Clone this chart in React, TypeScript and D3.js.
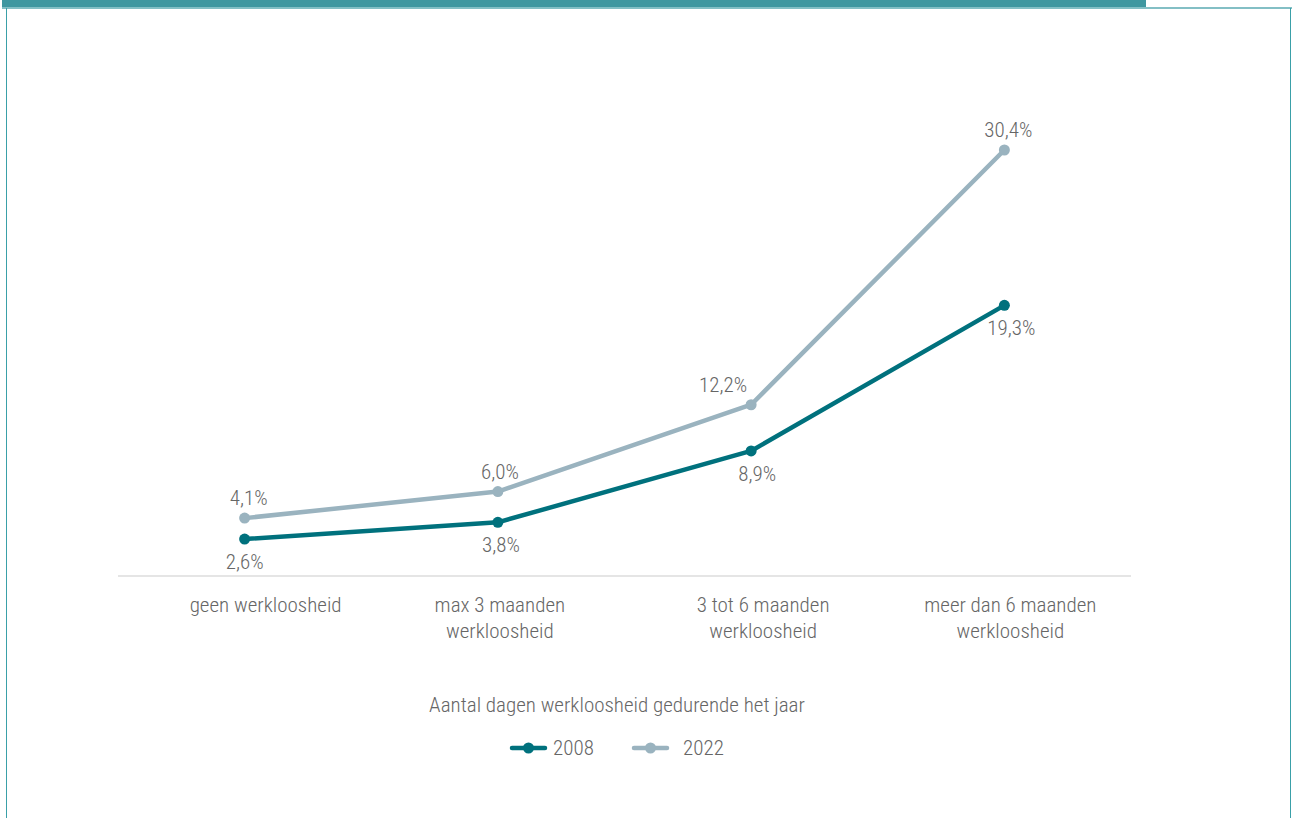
import React from "react";
import * as d3 from "d3";

const categories = [
  ["geen werkloosheid"],
  ["max 3 maanden", "werkloosheid"],
  ["3 tot 6 maanden", "werkloosheid"],
  ["meer dan 6 maanden", "werkloosheid"],
];
const years = ["2008", "2022"];
const values2008 = [2.6, 3.8, 8.9, 19.3];
const values2022 = [4.1, 6.0, 12.2, 30.4];
const axisTitle = "Aantal dagen werkloosheid gedurende het jaar";

const W = 1292;
const H = 818;
const FONT = "'Roboto Condensed', 'Liberation Sans Narrow', 'DejaVu Sans Condensed', Roboto, sans-serif";
const TEXT = "#666666";
const C2008 = "#00717d";
const C2022 = "#9ab3bf";
const FS = 21;
const FW = 300;

const fmt = (v: number) => v.toFixed(1).replace(".", ",") + "%";

export default function App() {
  const x = d3.scaleBand<number>().domain(d3.range(categories.length)).range([118, 1131]);
  const y = d3.scaleLinear().domain([0, 30.4]).range([575.5, 150]);
  const cx = (i: number) => (x(i) as number) + x.bandwidth() / 2;
  const line = d3
    .line<number>()
    .x((_, i) => cx(i))
    .y((d) => y(d));

  const series = [
    { name: years[0], values: values2008, color: C2008, above: false },
    { name: years[1], values: values2022, color: C2022, above: true },
  ];
  // label horizontal nudges (styling)
  const nudge: Record<string, number[]> = {
    "2008": [0, 3, 6, 7],
    "2022": [4, 2, -28, 4],
  };
  const catNudge = [21, 2, 12, 6];

  return (
    <svg width={W} height={H} style={{ position: "absolute", left: 0, top: 0 }} fontFamily={FONT} fontWeight={FW}>
      <rect x={0} y={0} width={W} height={H} fill="#ffffff" />
      <rect x={2} y={0} width={1144} height={7} fill="#3f97a0" />
      <line x1={2} x2={1292} y1={8} y2={8} stroke="#5aaab2" strokeWidth={1.5} />
      <line x1={6.5} x2={6.5} y1={8} y2={818} stroke="#3aa0a8" strokeWidth={1} />
      <line x1={1290.5} x2={1290.5} y1={8} y2={818} stroke="#3aa0a8" strokeWidth={1} />

      <line x1={118} x2={1131} y1={576} y2={576} stroke="#dddddd" strokeWidth={1.5} />

      {series.map((s) => (
        <g key={s.name}>
          <path d={line(s.values) || ""} fill="none" stroke={s.color} strokeWidth={4.5} strokeLinejoin="round" />
          {s.values.map((v, i) => (
            <circle key={i} cx={cx(i)} cy={y(v)} r={5.5} fill={s.color} />
          ))}
          {s.values.map((v, i) => (
            <text
              key={"t" + i}
              x={cx(i) + nudge[s.name][i]}
              y={y(v) + (s.above ? -20 : 23)}
              textAnchor="middle"
              dominantBaseline="central"
              fontSize={FS}
              fill={TEXT}
            >
              {fmt(v)}
            </text>
          ))}
        </g>
      ))}

      {categories.map((lines, i) => (
        <text key={i} x={cx(i) + catNudge[i]} textAnchor="middle" fontSize={FS} fill={TEXT}>
          {lines.map((l, j) => (
            <tspan key={j} x={cx(i) + catNudge[i]} y={605 + j * 26} dominantBaseline="central">
              {l}
            </tspan>
          ))}
        </text>
      ))}

      <text x={617} y={705} textAnchor="middle" dominantBaseline="central" fontSize={FS} fill={TEXT}>
        {axisTitle}
      </text>

      {series.map((s, k) => {
        const lx = 512 + k * 122;
        return (
          <g key={"lg" + s.name}>
            <line x1={lx} x2={lx + 33} y1={748} y2={748} stroke={s.color} strokeWidth={4.5} strokeLinecap="round" />
            <circle cx={lx + 16.5} cy={748} r={5.5} fill={s.color} />
            <text x={lx + 41 + k * 8} y={748} dominantBaseline="central" fontSize={FS} fill={TEXT}>
              {s.name}
            </text>
          </g>
        );
      })}
    </svg>
  );
}
